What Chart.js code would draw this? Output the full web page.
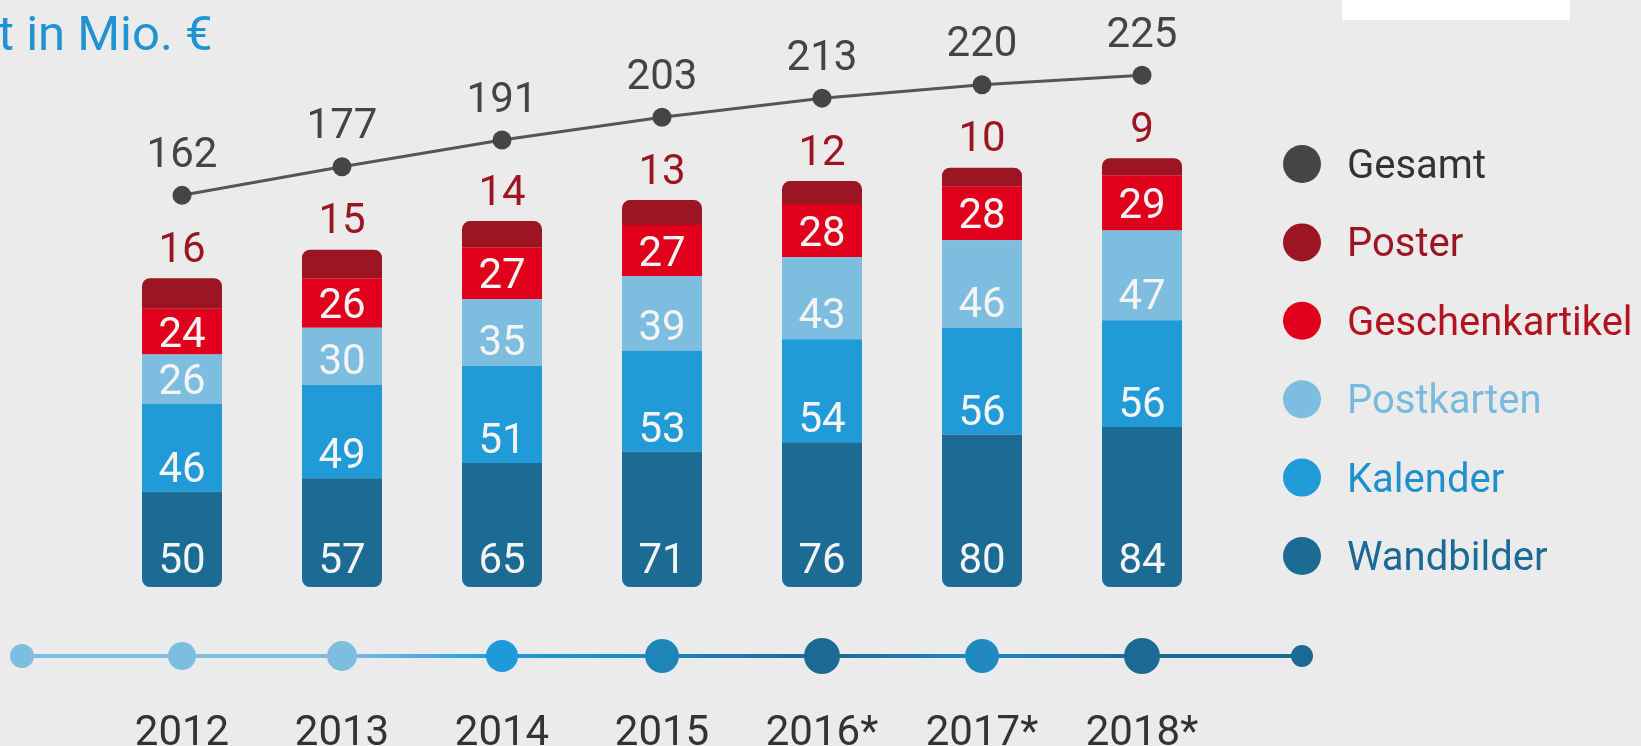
<!DOCTYPE html>
<html>
<head>
<meta charset="utf-8">
<script src="https://cdn.jsdelivr.net/npm/chart.js@4.4.1/dist/chart.umd.min.js"></script>
<style>
html, body { margin: 0; padding: 0; background: #ebebeb; overflow: hidden; }
#wrap { position: relative; width: 1641px; height: 746px; }
#title { position: absolute; left: -2px; top: 5px; font: 49px Roboto; color: #2093d2; white-space: nowrap; }
#box { position: absolute; left: 1342px; top: 0; width: 228px; height: 20px; background: #fff; }
canvas { position: absolute; left: 0; top: 0; }
</style>
</head>
<body>
<div id="wrap">
  <canvas id="chart" width="1641" height="746"></canvas>
  <div id="title">t in Mio. €</div>
  <div id="box"></div>
</div>
<script>
// Werte in Mio. €
const years = ['2012', '2013', '2014', '2015', '2016*', '2017*', '2018*'];
const wandbilder = [50, 57, 65, 71, 76, 80, 84];
const kalender = [46, 49, 51, 53, 54, 56, 56];
const postkarten = [26, 30, 35, 39, 43, 46, 47];
const geschenkartikel = [24, 26, 27, 27, 28, 28, 29];
const poster = [16, 15, 14, 13, 12, 10, 9];
const gesamt = [162, 177, 191, 203, 213, 220, 225];

// Zeitstrahl unten: Punkte von Index -1 bis 7
const timelineColors = ['#7dbde0', '#7dbde0', '#7dbde0', '#1f9ad8', '#1f84ba', '#1b6a96', '#2089c0', '#1b6a96', '#1b6a96'];
const timelineRadius = [12, 14, 15, 16, 17, 18, 17, 18, 11];

const legendTextColors = ['#333333', '#9b1622', '#b5121f', '#79b9dc', '#1e90cc', '#1b6a96'];
// Abstand der Zahl vom unteren Segmentrand (null = mittig)
const labelLift = { Wandbilder: 29, Kalender: 25, Postkarten: 26, Geschenkartikel: null };
const FONT = 'Roboto';
const CAP = 15; // halbe Versalhöhe bei 42px

const valueLabels = {
  id: 'valueLabels',
  afterDatasetsDraw(chart) {
    const ctx = chart.ctx;
    ctx.save();
    ctx.font = '42px ' + FONT;
    ctx.textAlign = 'center';
    ctx.textBaseline = 'alphabetic';
    chart.data.datasets.forEach((ds, di) => {
      const meta = chart.getDatasetMeta(di);
      meta.data.forEach((el, i) => {
        const v = ds.data[i];
        let cy;
        if (ds.type === 'line') {
          ctx.fillStyle = '#444';
          cy = el.y - 43.5;
        } else if (ds.label === 'Poster') {
          ctx.fillStyle = '#9b1622';
          cy = el.y - 31.5;
        } else {
          const h = el.base - el.y;
          const lift = labelLift[ds.label];
          ctx.fillStyle = '#f4f4f4';
          cy = el.base - (lift === null ? h / 2 : Math.min(h / 2, lift));
        }
        ctx.fillText(v, el.x, cy + CAP);
      });
    });
    ctx.restore();
  }
};

const timeline = {
  id: 'timeline',
  afterDatasetsDraw(chart) {
    const ctx = chart.ctx;
    const xs = chart.scales.x;
    const y = chart.chartArea.bottom + 69;
    const pts = timelineColors.map((c, k) => xs.getPixelForValue(k - 1));
    ctx.save();
    ctx.lineWidth = 4;
    for (let k = 0; k < pts.length - 1; k++) {
      const g = ctx.createLinearGradient(pts[k], 0, pts[k + 1], 0);
      g.addColorStop(0, timelineColors[k]);
      g.addColorStop(1, timelineColors[k + 1]);
      ctx.strokeStyle = g;
      ctx.beginPath();
      ctx.moveTo(pts[k], y);
      ctx.lineTo(pts[k + 1], y);
      ctx.stroke();
    }
    pts.forEach((px, k) => {
      ctx.fillStyle = timelineColors[k];
      ctx.beginPath();
      ctx.arc(px, y, timelineRadius[k], 0, Math.PI * 2);
      ctx.fill();
    });
    ctx.restore();
  }
};

const legendRight = {
  id: 'legendRight',
  afterDraw(chart) {
    const ctx = chart.ctx;
    const x = chart.chartArea.right + 80;
    const order = ['Gesamt', 'Poster', 'Geschenkartikel', 'Postkarten', 'Kalender', 'Wandbilder'];
    ctx.save();
    ctx.font = '40px ' + FONT;
    ctx.textBaseline = 'alphabetic';
    order.forEach((name, k) => {
      const ds = chart.data.datasets.find(d => d.label === name);
      const y = 164 + 78.4 * k;
      ctx.fillStyle = ds.type === 'line' ? ds.pointBackgroundColor : ds.backgroundColor;
      ctx.beginPath();
      ctx.arc(x, y, 19, 0, Math.PI * 2);
      ctx.fill();
      ctx.fillStyle = legendTextColors[k];
      ctx.fillText(name, x + 45, y + 14);
    });
    ctx.restore();
  }
};

new Chart(document.getElementById('chart'), {
  type: 'bar',
  data: {
    labels: years,
    datasets: [
      {
        type: 'line', label: 'Gesamt', data: gesamt, yAxisID: 'y2',
        borderColor: '#555555', borderWidth: 3,
        pointRadius: 9.5, pointBackgroundColor: '#454545', pointBorderWidth: 0,
        clip: false, order: 0
      },
      {
        label: 'Wandbilder', data: wandbilder, backgroundColor: '#1b6b94',
        borderSkipped: false, borderRadius: { bottomLeft: 8, bottomRight: 8, topLeft: 0, topRight: 0 }, order: 1
      },
      { label: 'Kalender', data: kalender, backgroundColor: '#209bd8', order: 1 },
      { label: 'Postkarten', data: postkarten, backgroundColor: '#7dbde0', order: 1 },
      { label: 'Geschenkartikel', data: geschenkartikel, backgroundColor: '#e0001b', order: 1 },
      {
        label: 'Poster', data: poster, backgroundColor: '#9b1622',
        borderRadius: { topLeft: 8, topRight: 8, bottomLeft: 0, bottomRight: 0 }, order: 1
      }
    ]
  },
  options: {
    responsive: false,
    animation: false,
    layout: { autoPadding: false, padding: { left: 102, right: 419, top: 0, bottom: 0 } },
    datasets: { bar: { barPercentage: 0.5, categoryPercentage: 1, borderWidth: 0 } },
    plugins: { legend: { display: false }, tooltip: { enabled: false } },
    scales: {
      x: {
        stacked: true, offset: true,
        grid: { display: false, drawTicks: false }, border: { display: false },
        ticks: { font: { family: FONT, size: 42 }, color: '#333333', padding: 122 },
        afterFit: s => { s.height = 159; }
      },
      y: { stacked: true, display: false, min: 0, max: 308 },
      y2: { display: false, min: -43.5, max: 264.5 }
    }
  },
  plugins: [timeline, valueLabels, legendRight]
});
</script>
</body>
</html>
